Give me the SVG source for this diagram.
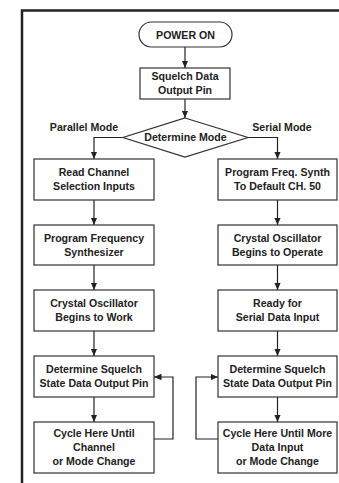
<svg xmlns="http://www.w3.org/2000/svg" width="339" height="483" viewBox="0 0 339 483">
<defs>
<marker id="ah" markerUnits="userSpaceOnUse" markerWidth="8" markerHeight="7" refX="7.5" refY="3.25" orient="auto">
<path d="M0,0 L7.5,3.25 L0,6.5 z" fill="#222"/>
</marker>
<style>
.box{fill:#fff;stroke:#333;stroke-width:1.2}
.t{font-family:"Liberation Sans",Arial,sans-serif;font-weight:bold;font-size:10.6px;fill:#222;text-anchor:middle}
.c{fill:none;stroke:#222;stroke-width:1.2}
</style>
</defs>
<rect width="339" height="483" fill="#fff"/>
<path d="M22,483 V10.5 H339" fill="none" stroke="#222" stroke-width="2.5"/>

<g id="connectors">
<path class="c" d="M185,47 V68" marker-end="url(#ah)"/>
<path class="c" d="M185,99 V118" marker-end="url(#ah)"/>
<path class="c" d="M123,137.5 H94 V159" marker-end="url(#ah)"/>
<path class="c" d="M248,137.5 H277.5 V159" marker-end="url(#ah)"/>
<path class="c" d="M94,200 V225" marker-end="url(#ah)"/>
<path class="c" d="M94,265 V290" marker-end="url(#ah)"/>
<path class="c" d="M94,331 V356" marker-end="url(#ah)"/>
<path class="c" d="M94,397 V422" marker-end="url(#ah)"/>
<path class="c" d="M277.5,200 V225" marker-end="url(#ah)"/>
<path class="c" d="M277.5,265 V290" marker-end="url(#ah)"/>
<path class="c" d="M277.5,331 V356" marker-end="url(#ah)"/>
<path class="c" d="M277.5,397 V422" marker-end="url(#ah)"/>
<path class="c" d="M154,439 H173 V377 H154" marker-end="url(#ah)"/>
<path class="c" d="M218,439 H196 V377 H218" marker-end="url(#ah)"/>
</g>

<g id="power-on">
<rect class="box" x="139" y="22" width="93" height="25" rx="12.5"/>
<text class="t" x="185.5" y="38.5">POWER ON</text>
</g>
<g id="squelch">
<rect class="box" x="140" y="68" width="90" height="31"/>
<text class="t" x="185" y="80">Squelch Data</text>
<text class="t" x="185" y="93.5">Output Pin</text>
</g>
<g id="determine-mode">
<polygon class="box" points="185,118 248,137.5 185,157 123,137.5"/>
<text class="t" x="185.5" y="141">Determine Mode</text>
</g>
<text class="t" x="84" y="131">Parallel Mode</text>
<text class="t" x="282" y="131">Serial Mode</text>

<g id="l1">
<rect class="box" x="34" y="159" width="120" height="41"/>
<text class="t" x="94" y="176">Read Channel</text>
<text class="t" x="94" y="190">Selection Inputs</text>
</g>
<g id="l2">
<rect class="box" x="34" y="225" width="120" height="40"/>
<text class="t" x="94" y="241.5">Program Frequency</text>
<text class="t" x="94" y="255.5">Synthesizer</text>
</g>
<g id="l3">
<rect class="box" x="34" y="290" width="120" height="41"/>
<text class="t" x="94" y="307">Crystal Oscillator</text>
<text class="t" x="94" y="321">Begins to Work</text>
</g>
<g id="l4">
<rect class="box" x="34" y="356" width="120" height="41"/>
<text class="t" x="94" y="373">Determine Squelch</text>
<text class="t" x="94" y="387">State Data Output Pin</text>
</g>
<g id="l5">
<rect class="box" x="34" y="422" width="120" height="51"/>
<text class="t" x="94" y="437">Cycle Here Until</text>
<text class="t" x="94" y="451">Channel</text>
<text class="t" x="94" y="465">or Mode Change</text>
</g>

<g id="r1">
<rect class="box" x="218" y="159" width="119" height="41"/>
<text class="t" x="277.5" y="176">Program Freq. Synth</text>
<text class="t" x="277.5" y="190">To Default CH. 50</text>
</g>
<g id="r2">
<rect class="box" x="218" y="225" width="119" height="40"/>
<text class="t" x="277.5" y="241.5">Crystal Oscillator</text>
<text class="t" x="277.5" y="255.5">Begins to Operate</text>
</g>
<g id="r3">
<rect class="box" x="218" y="290" width="119" height="41"/>
<text class="t" x="277.5" y="307">Ready for</text>
<text class="t" x="277.5" y="321">Serial Data Input</text>
</g>
<g id="r4">
<rect class="box" x="218" y="356" width="119" height="41"/>
<text class="t" x="277.5" y="373">Determine Squelch</text>
<text class="t" x="277.5" y="387">State Data Output Pin</text>
</g>
<g id="r5">
<rect class="box" x="218" y="422" width="119" height="51"/>
<text class="t" x="277.5" y="437">Cycle Here Until More</text>
<text class="t" x="277.5" y="451">Data Input</text>
<text class="t" x="277.5" y="465">or Mode Change</text>
</g>
</svg>
